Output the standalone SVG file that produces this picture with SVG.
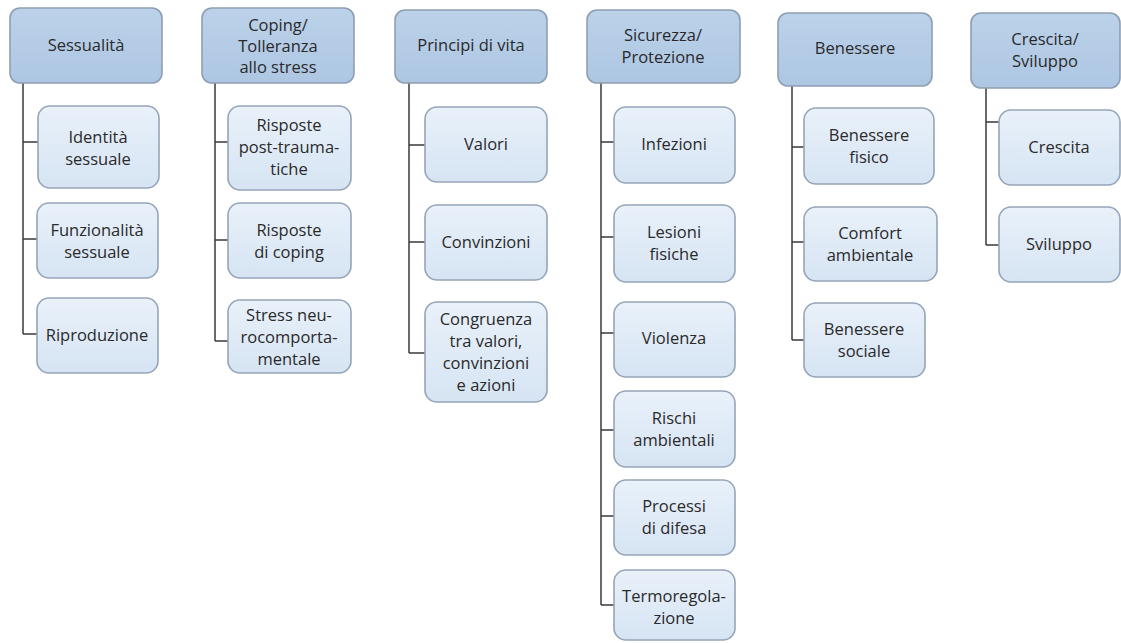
<svg xmlns="http://www.w3.org/2000/svg" width="1121" height="643" viewBox="0 0 1121 643">
<defs>
<linearGradient id="gh" x1="0" y1="0" x2="0" y2="1"><stop offset="0" stop-color="#bcd2ea"/><stop offset="1" stop-color="#adc6e2"/></linearGradient>
<linearGradient id="gc" x1="0" y1="0" x2="0" y2="1"><stop offset="0" stop-color="#e9f1fa"/><stop offset="1" stop-color="#d6e4f3"/></linearGradient>
</defs>
<style>
.h{fill:url(#gh);stroke:#8f9fb2;stroke-width:1.6}
.c{fill:url(#gc);stroke:#95a5b8;stroke-width:1.6}
text{font-family:"Open Sans","Noto Sans",sans-serif;font-size:16.5px;fill:#2a2a2a;text-anchor:middle}
.ln{fill:none;stroke:#3a3a3a;stroke-width:1.5}
</style>
<rect width="1121" height="643" fill="#fff"/>
<g id="connectors" class="ln">
<path d="M23 83V334M23 142H38M23 239H37M23 334H37"/>
<path d="M215 83V341M215 142H228M215 240H228M215 341H228"/>
<path d="M409 83V353M409 145H425M409 242H425M409 353H425"/>
<path d="M601 83V605M601 142H614M601 237H614M601 333H614M601 430H614M601 516H614M601 605H614"/>
<path d="M792 86V340M792 147H804M792 242H804M792 340H804"/>
<path d="M986 88V245M986 122H999M986 245H999"/>
</g>
<g id="h1"><rect class="h" x="10" y="8" width="152" height="75" rx="10"/><text x="86" y="51">Sessualità</text></g>
<g id="h2"><rect class="h" x="202" y="8" width="152" height="75" rx="10"/><text x="278" y="31">Coping/</text><text x="278" y="52">Tolleranza</text><text x="278" y="73">allo stress</text></g>
<g id="h3"><rect class="h" x="395" y="10" width="152" height="73" rx="10"/><text x="471" y="51">Principi di vita</text></g>
<g id="h4"><rect class="h" x="587" y="10" width="153" height="73" rx="10"/><text x="663" y="41">Sicurezza/</text><text x="663" y="63">Protezione</text></g>
<g id="h5"><rect class="h" x="778" y="13" width="154" height="73" rx="10"/><text x="855" y="54">Benessere</text></g>
<g id="h6"><rect class="h" x="971" y="13" width="149" height="75" rx="10"/><text x="1045" y="45">Crescita/</text><text x="1045" y="67">Sviluppo</text></g>

<g id="c1a"><rect class="c" x="38" y="106" width="121" height="82" rx="12"/><text x="98" y="143">Identità</text><text x="98" y="165">sessuale</text></g>
<g id="c1b"><rect class="c" x="37" y="203" width="121" height="75" rx="12"/><text x="97" y="236">Funzionalità</text><text x="97" y="258">sessuale</text></g>
<g id="c1c"><rect class="c" x="37" y="298" width="121" height="75" rx="12"/><text x="97" y="341">Riproduzione</text></g>

<g id="c2a"><rect class="c" x="228" y="106" width="123" height="84" rx="12"/><text x="289" y="131">Risposte</text><text x="289" y="153">post-trauma-</text><text x="289" y="175">tiche</text></g>
<g id="c2b"><rect class="c" x="228" y="203" width="123" height="75" rx="12"/><text x="289" y="236">Risposte</text><text x="289" y="258">di coping</text></g>
<g id="c2c"><rect class="c" x="228" y="300" width="123" height="73" rx="12"/><text x="289" y="321">Stress neu-</text><text x="289" y="343">rocomporta-</text><text x="289" y="365">mentale</text></g>

<g id="c3a"><rect class="c" x="425" y="107" width="122" height="75" rx="12"/><text x="486" y="150">Valori</text></g>
<g id="c3b"><rect class="c" x="425" y="205" width="122" height="75" rx="12"/><text x="486" y="248">Convinzioni</text></g>
<g id="c3c"><rect class="c" x="425" y="302" width="122" height="100" rx="12"/><text x="486" y="325">Congruenza</text><text x="486" y="347">tra valori,</text><text x="486" y="369">convinzioni</text><text x="486" y="391">e azioni</text></g>

<g id="c4a"><rect class="c" x="614" y="107" width="121" height="76" rx="12"/><text x="674" y="150">Infezioni</text></g>
<g id="c4b"><rect class="c" x="614" y="205" width="121" height="77" rx="12"/><text x="674" y="238">Lesioni</text><text x="674" y="260">fisiche</text></g>
<g id="c4c"><rect class="c" x="614" y="302" width="121" height="75" rx="12"/><text x="674" y="344">Violenza</text></g>
<g id="c4d"><rect class="c" x="614" y="391" width="121" height="76" rx="12"/><text x="674" y="424">Rischi</text><text x="674" y="446">ambientali</text></g>
<g id="c4e"><rect class="c" x="614" y="480" width="121" height="75" rx="12"/><text x="674" y="512">Processi</text><text x="674" y="534">di difesa</text></g>
<g id="c4f"><rect class="c" x="614" y="570" width="121" height="70" rx="12"/><text x="674" y="602">Termoregola-</text><text x="674" y="624">zione</text></g>

<g id="c5a"><rect class="c" x="804" y="108" width="130" height="76" rx="12"/><text x="869" y="141">Benessere</text><text x="869" y="163">fisico</text></g>
<g id="c5b"><rect class="c" x="804" y="207" width="133" height="74" rx="12"/><text x="870" y="239">Comfort</text><text x="870" y="261">ambientale</text></g>
<g id="c5c"><rect class="c" x="804" y="303" width="121" height="74" rx="12"/><text x="864" y="335">Benessere</text><text x="864" y="357">sociale</text></g>

<g id="c6a"><rect class="c" x="999" y="110" width="121" height="75" rx="12"/><text x="1059" y="153">Crescita</text></g>
<g id="c6b"><rect class="c" x="999" y="207" width="121" height="75" rx="12"/><text x="1059" y="250">Sviluppo</text></g>
</svg>
